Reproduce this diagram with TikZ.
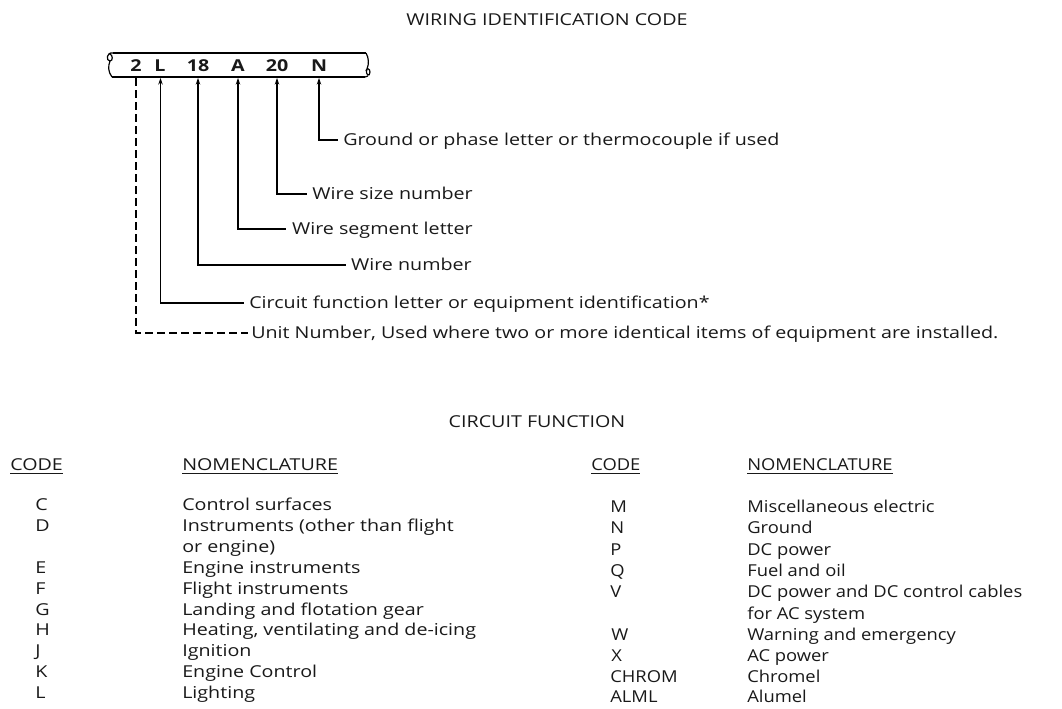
\documentclass[tikz,border=0pt]{standalone}
\usepackage{fontspec}
\setmainfont{Open Sans}[FakeStretch=1.2]
\newfontfamily\rcolfont{Open Sans}[FakeStretch=1.12]
\usetikzlibrary{arrows.meta}
\begin{document}
\begin{tikzpicture}[x=0.75pt,y=-0.75pt,
  every node/.style={font=\fontsize{12.3}{14}\selectfont, inner sep=0pt, text height=8.6pt, text depth=0pt, text=black!90},
  lbl/.style={anchor=west},
  lblr/.style={anchor=east},
  ctr/.style={anchor=center},
  rcol/.style={anchor=west, font=\fontsize{12.3}{14}\selectfont\rcolfont},
  barcode/.style={anchor=center, font=\fontsize{12.3}{14}\selectfont\bfseries},
  wire/.style={line width=0.9pt},
  arr/.style={{Stealth[length=5pt,width=3.4pt]}-, line width=0.8pt, shorten >=4pt},
  dsh/.style={line width=0.8pt, dash pattern=on 6pt off 3pt, shorten >=2pt}]
\useasboundingbox (0,0) rectangle (1062,708);
% title
\node[ctr] (title) at (547,20) {WIRING IDENTIFICATION CODE};
% wire bar
\draw[wire] (113,53) -- (366,53);
\draw[wire] (112,77) -- (365,77);
\draw[wire] (113,53) .. controls (106,52) and (106,61) .. (110,61) .. controls (113,61) and (113,55) .. (110,54)
            (110,61) .. controls (108,66) and (108,72) .. (112,77);
\draw[wire] (366,53) .. controls (369,58) and (369,64) .. (367,69) .. controls (365,76) and (370,77) .. (370,72)
            .. controls (370,68) and (366,68) .. (366,71);
\draw[wire] (365,77) -- (368,76);
% codes in bar
\node[barcode] (c2)  at (136,66) {2};
\node[barcode] (cL)  at (160,66) {L};
\node[barcode] (c18) at (198,66) {18};
\node[barcode] (cA)  at (238,66) {A};
\node[barcode] (c20) at (277,66) {20};
\node[barcode] (cN)  at (319,66) {N};
\coordinate (b2)  at (136,78);
\coordinate (bL)  at (160.5,78);
\coordinate (b18) at (198,78);
\coordinate (bA)  at (238,78);
\coordinate (b20) at (277,78);
\coordinate (bN)  at (319,78);
% labels
\node[lbl]  (gnd)  at (343,140) {Ground or phase letter or thermocouple if used};
\node[lblr] (wsz)  at (473,194) {Wire size number};
\node[lblr] (wsg)  at (473,229) {Wire segment letter};
\node[lblr] (wno)  at (472,265) {Wire number};
\node[lbl]  (cfn)  at (249,303) {Circuit function letter or equipment identification*};
\node[lbl]  (unit) at (251,333) {Unit Number, Used where two or more identical items of equipment are installed.};
% connectors
\draw[arr] (bN)  |- (gnd.west);
\draw[arr] (b20) |- (wsz.west);
\draw[arr] (bA)  |- (wsg.west);
\draw[arr] (b18) |- (wno.west);
\draw[arr] (bL)  |- (cfn.west);
\draw[dsh] (b2)  |- (unit.west);
% circuit function table
\node[ctr] (cf) at (537,422) {CIRCUIT FUNCTION};
\node[lbl] (h1) at (10,465) {\underline{CODE}};
\node[lbl] (h2) at (182,465) {\underline{NOMENCLATURE}};
\node[rcol] (h3) at (591,465) {\underline{CODE}};
\node[rcol] (h4) at (747,465) {\underline{NOMENCLATURE}};
% left column
\node[lbl] (kC) at (35,505) {C}; \node[lbl] (tC) at (182,505) {Control surfaces};
\node[lbl] (kD) at (35,526) {D}; \node[lbl] (tD) at (182,526) {Instruments (other than flight};
\node[lbl] (tD2) at (182,547) {or engine)};
\node[lbl] (kE) at (35,568) {E}; \node[lbl] (tE) at (182,568) {Engine instruments};
\node[lbl] (kF) at (35,589) {F}; \node[lbl] (tF) at (182,589) {Flight instruments};
\node[lbl] (kG) at (35,610) {G}; \node[lbl] (tG) at (182,610) {Landing and flotation gear};
\node[lbl] (kH) at (35,630) {H}; \node[lbl] (tH) at (182,630) {Heating, ventilating and de-icing};
\node[lbl] (kJ) at (35,651) {J}; \node[lbl] (tJ) at (182,651) {Ignition};
\node[lbl] (kK) at (35,672) {K}; \node[lbl] (tK) at (182,672) {Engine Control};
\node[lbl] (kL) at (35,693) {L}; \node[lbl] (tL) at (182,693) {Lighting};
% right column
\node[rcol] (kM) at (610,507) {M}; \node[rcol] (tM) at (747,507) {Miscellaneous electric};
\node[rcol] (kN) at (610,528) {N}; \node[rcol] (tN) at (747,528) {Ground};
\node[rcol] (kP) at (610,550) {P}; \node[rcol] (tP) at (747,550) {DC power};
\node[rcol] (kQ) at (610,571) {Q}; \node[rcol] (tQ) at (747,571) {Fuel and oil};
\node[rcol] (kV) at (610,592) {V}; \node[rcol] (tV) at (747,592) {DC power and DC control cables};
\node[rcol] (tV2) at (747,614) {for AC system};
\node[rcol] (kW) at (611,635) {W}; \node[rcol] (tW) at (747,635) {Warning and emergency};
\node[rcol] (kX) at (611,656) {X}; \node[rcol] (tX) at (747,656) {AC power};
\node[rcol] (kCH) at (610,677) {CHROM}; \node[rcol] (tCH) at (747,677) {Chromel};
\node[rcol] (kAL) at (610,697) {ALML}; \node[rcol] (tAL) at (747,697) {Alumel};
\end{tikzpicture}
\end{document}
